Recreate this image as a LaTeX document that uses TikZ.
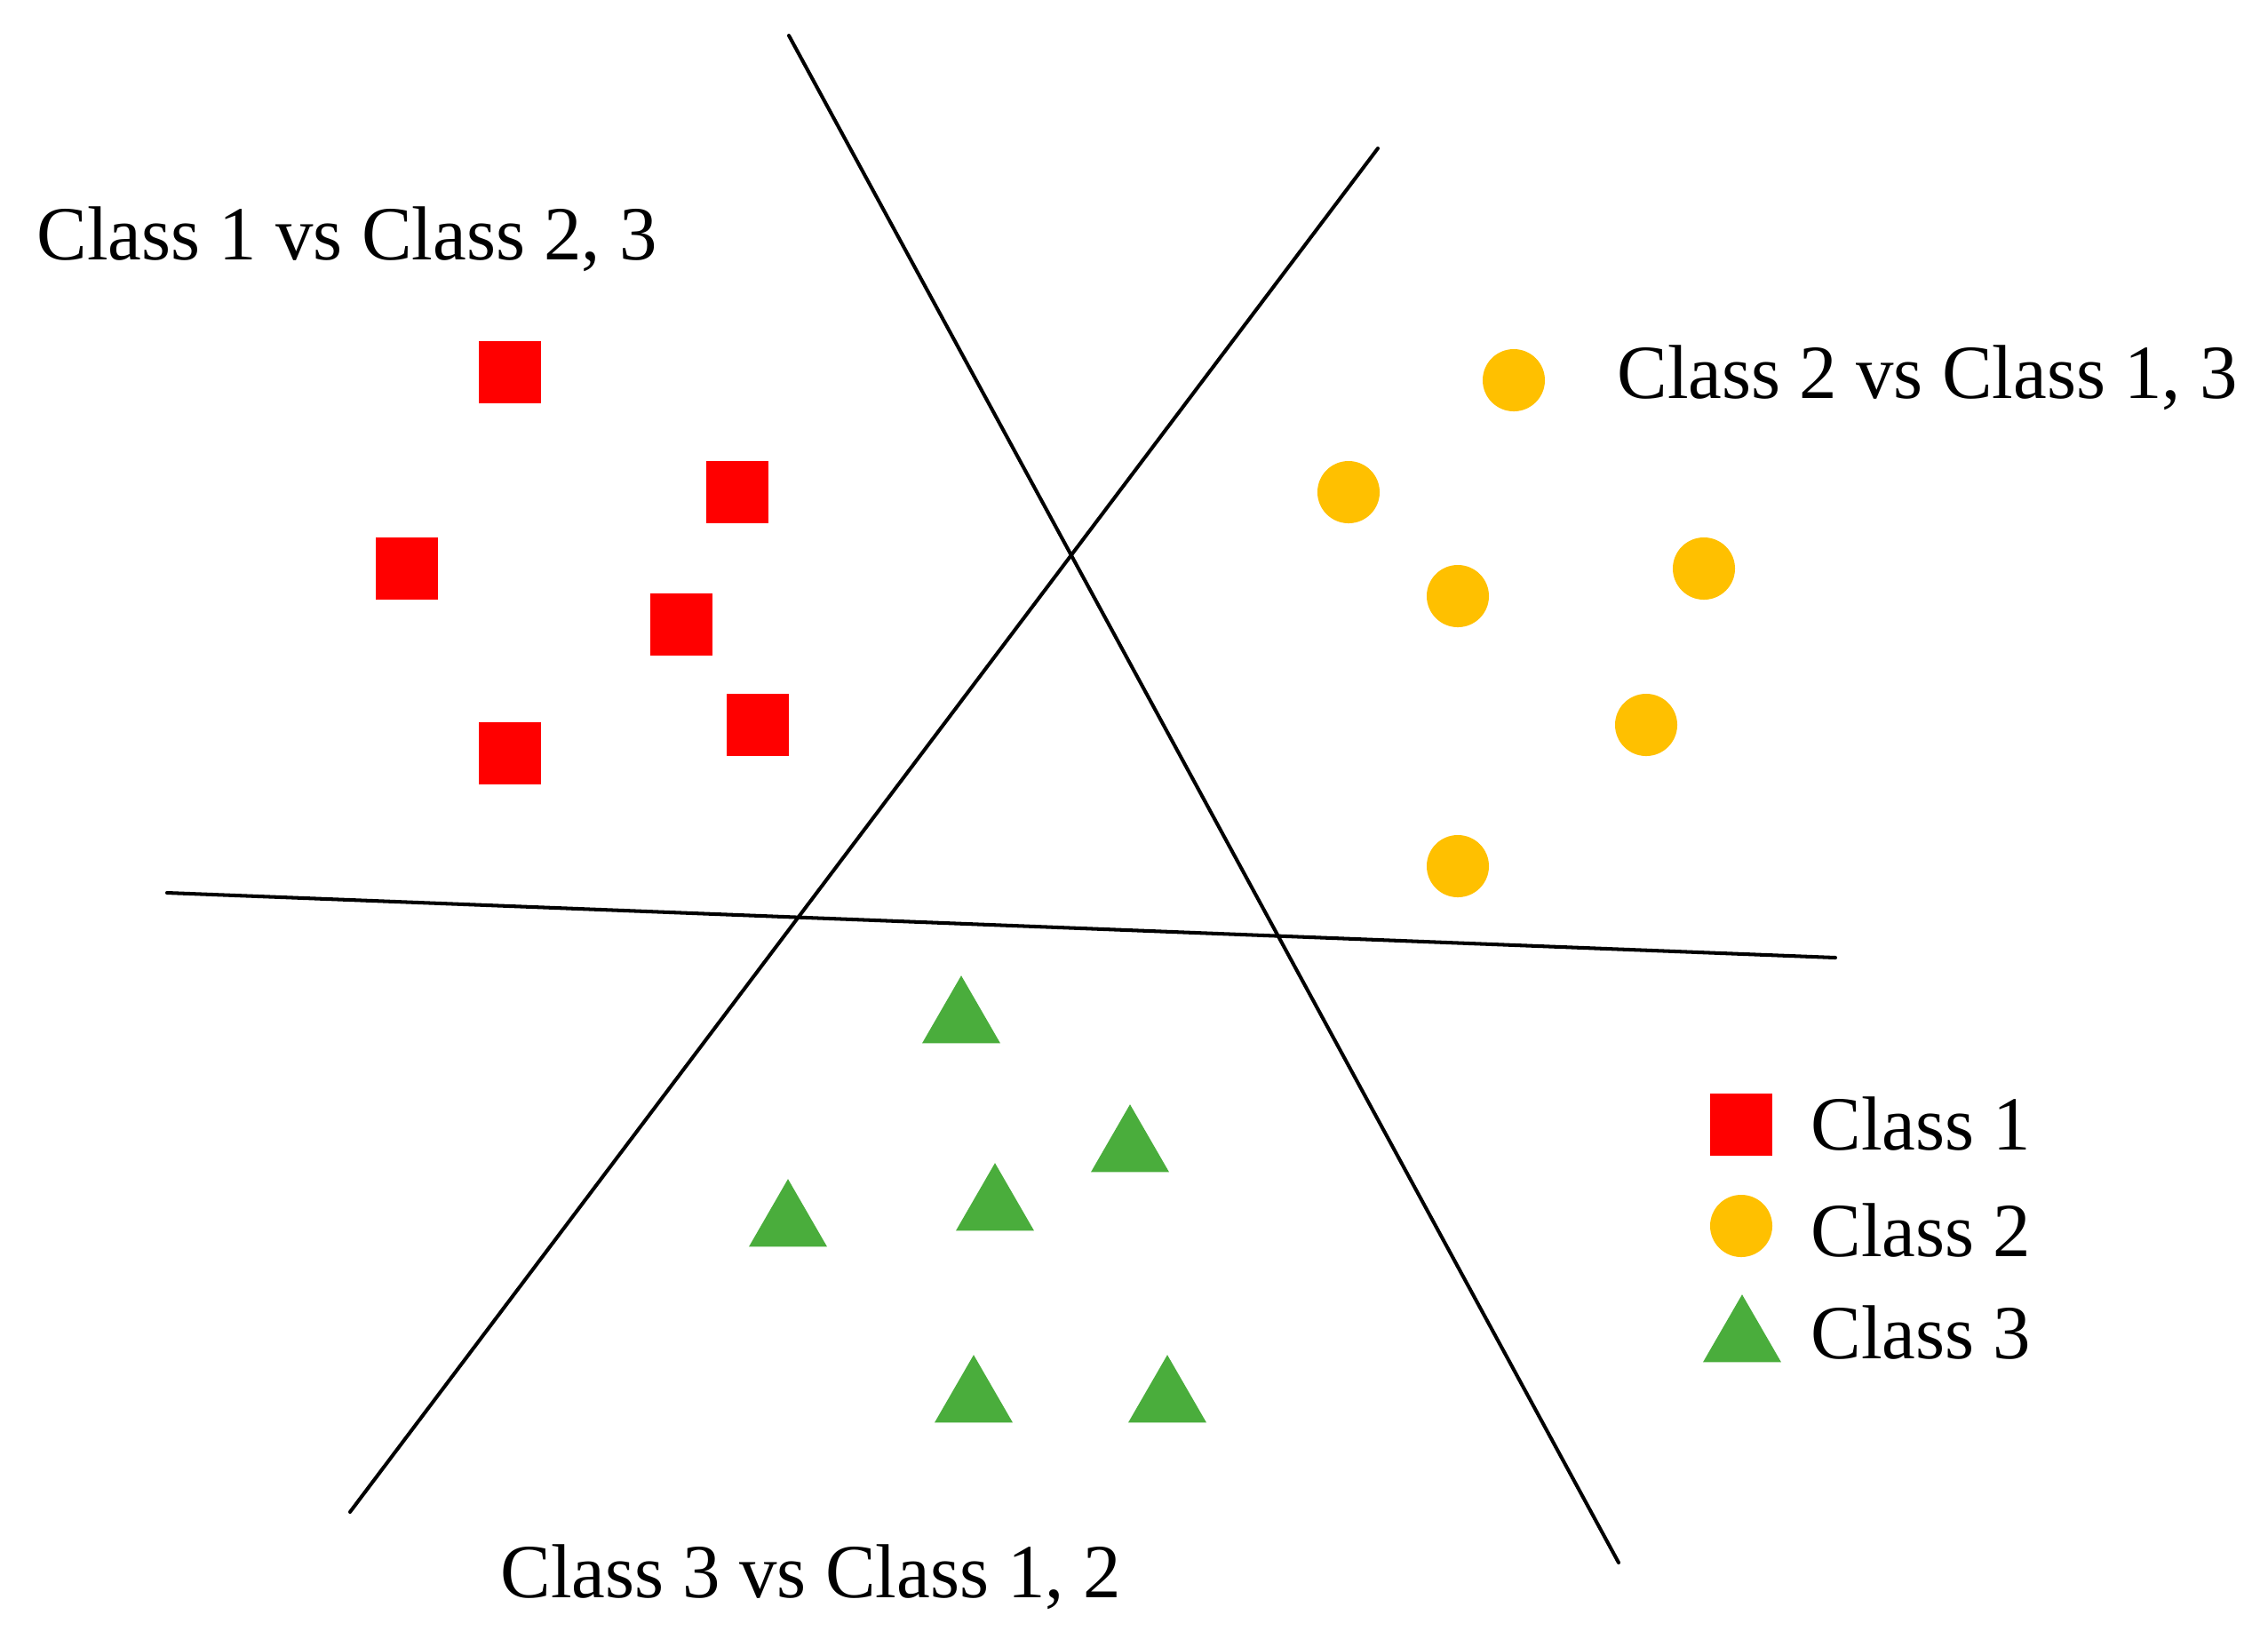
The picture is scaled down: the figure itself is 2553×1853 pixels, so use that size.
\documentclass[tikz,border=0pt]{standalone}
\usepackage{fontspec}
\setmainfont[FakeStretch=0.985]{Liberation Serif}
\usetikzlibrary{shapes.geometric}
\definecolor{cred}{RGB}{255,0,0}
\definecolor{cyel}{RGB}{255,192,0}
\definecolor{cgrn}{RGB}{74,173,60}
\tikzset{
  sep/.style={line width=1.15pt, black, line cap=round},
  sq/.style={rectangle, fill=cred, minimum size=0.70cm, inner sep=0pt, outer sep=0pt},
  dot/.style={circle, fill=cyel, minimum size=0.70cm, inner sep=0pt, outer sep=0pt},
  tri/.style={regular polygon, regular polygon sides=3, fill=cgrn, minimum size=1.016cm, inner sep=0pt, outer sep=0pt},
  lbl/.style={anchor=base west, inner sep=0pt, font=\fontsize{24.5}{29}\selectfont}
}
\begin{document}
\begin{tikzpicture}[x=0.01cm, y=-0.01cm]
\useasboundingbox[fill=white] (0,0) rectangle (2553,1853);
% separating lines
\coordinate (a1) at (888,40);
\coordinate (a2) at (1822,1759);
\coordinate (b1) at (1551,167);
\coordinate (b2) at (394,1702);
\coordinate (c1) at (188,1005);
\coordinate (c2) at (2066,1078);
\draw[sep] (a1) -- (a2);
\draw[sep] (b1) -- (b2);
\draw[sep] (c1) -- (c2);
% class 1
\node[sq] (s1) at (574,419) {};
\node[sq] (s2) at (830,554) {};
\node[sq] (s3) at (458,640) {};
\node[sq] (s4) at (767,703) {};
\node[sq] (s5) at (574,848) {};
\node[sq] (s6) at (853,816) {};
% class 2
\node[dot] (d1) at (1704,428) {};
\node[dot] (d2) at (1518,554) {};
\node[dot] (d3) at (1641,671) {};
\node[dot] (d4) at (1918,640) {};
\node[dot] (d5) at (1853,816) {};
\node[dot] (d6) at (1641,975) {};
% class 3
\node[tri] (t1) at (1082,1149) {};
\node[tri] (t2) at (887,1378) {};
\node[tri] (t3) at (1120,1360) {};
\node[tri] (t5) at (1272,1294) {};
\node[tri] (t4) at (1096,1576) {};
\node[tri] (t6) at (1314,1576) {};
% region labels
\node[lbl] (l1) at (41,292) {Class 1 vs Class 2, 3};
\node[lbl] (l2) at (1820,448) {Class 2 vs Class 1, 3};
\node[lbl] (l3) at (563,1798) {Class 3 vs Class 1, 2};
% legend
\node[sq] (ks) at (1960,1266) {};
\node[dot] (kd) at (1960,1380) {};
\node[tri] (kt) at (1961,1508) {};
\node[lbl] (k1) at (2038,1294) {Class 1};
\node[lbl] (k2) at (2038,1414) {Class 2};
\node[lbl] (k3) at (2038,1529) {Class 3};
\end{tikzpicture}
\end{document}
